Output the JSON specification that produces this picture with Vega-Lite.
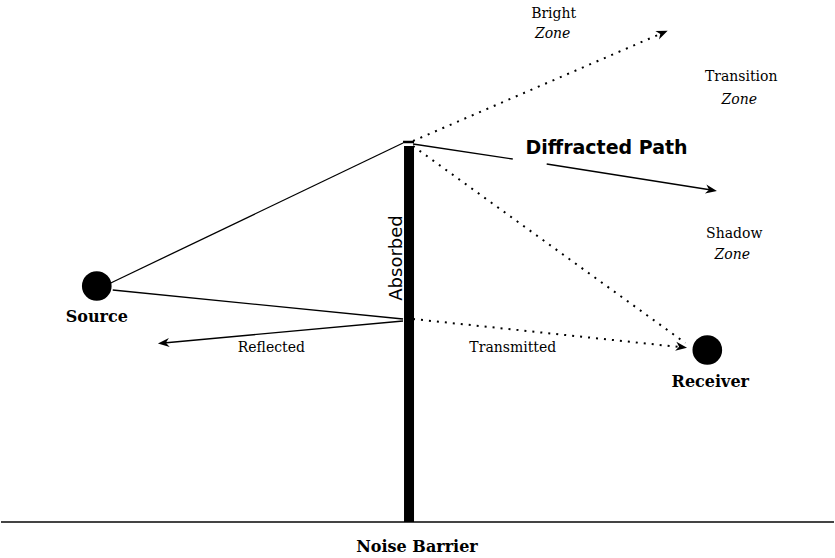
{
  "$schema": "https://vega.github.io/schema/vega-lite/v6.json",
  "width": 835,
  "height": 558,
  "autosize": {"type": "fit", "contains": "padding"},
  "padding": 0,
  "background": "white",
  "config": {"view": {"stroke": null}},
  "datasets": {
    "solid": [
      {"path": "source to barrier top", "x": 110, "y": 283, "x2": 403, "y2": 143},
      {"path": "source to barrier", "x": 112, "y": 290, "x2": 403, "y2": 319},
      {"path": "reflected", "x": 403, "y": 321, "x2": 163, "y2": 343},
      {"path": "diffracted a", "x": 413, "y": 144, "x2": 513, "y2": 159},
      {"path": "diffracted b", "x": 547, "y": 164, "x2": 712, "y2": 190}
    ],
    "dotted": [
      {"path": "bright", "x": 413, "y": 141, "x2": 663, "y2": 33},
      {"path": "shadow", "x": 413, "y": 146, "x2": 686, "y2": 343},
      {"path": "transmitted", "x": 413, "y": 319, "x2": 680, "y2": 347}
    ],
    "arrows": [
      {"path": "bright", "x": 663, "y": 33, "dir": -23},
      {"path": "diffracted", "x": 712, "y": 190, "dir": 9},
      {"path": "reflected", "x": 163, "y": 343, "dir": 175},
      {"path": "transmitted", "x": 682, "y": 347, "dir": 8}
    ],
    "ground": [{"x": 0, "y": 522, "x2": 835, "y2": 522}],
    "barrier": [{"x": 409, "y": 146, "x2": 409, "y2": 522}],
    "cap": [{"x": 403, "y": 142, "x2": 414, "y2": 142}],
    "nodes": [
      {"name": "Source", "x": 96, "y": 286},
      {"name": "Receiver", "x": 708, "y": 350}
    ],
    "boldLabels": [
      {"label": "Source", "x": 96, "y": 317},
      {"label": "Receiver", "x": 711, "y": 382},
      {"label": "Noise Barrier", "x": 417, "y": 547}
    ],
    "smallLabels": [
      {"label": "Reflected", "x": 271, "y": 348},
      {"label": "Transmitted", "x": 513, "y": 348},
      {"label": "Bright", "x": 554, "y": 14},
      {"label": "Transition", "x": 742, "y": 77},
      {"label": "Shadow", "x": 735, "y": 234}
    ],
    "zoneLabels": [
      {"label": "Zone", "x": 553, "y": 34},
      {"label": "Zone", "x": 740, "y": 100},
      {"label": "Zone", "x": 733, "y": 255}
    ],
    "pathLabel": [{"label": "Diffracted Path", "x": 607, "y": 148}],
    "absorbed": [{"label": "Absorbed", "x": 397, "y": 258}]
  },
  "encoding": {
    "x": {"field": "x", "type": "quantitative", "scale": {"domain": [0, 835], "nice": false, "zero": false}, "axis": null},
    "y": {"field": "y", "type": "quantitative", "scale": {"domain": [0, 558], "nice": false, "zero": false, "reverse": true}, "axis": null}
  },
  "layer": [
    {
      "data": {"name": "ground"},
      "mark": {"type": "rule", "color": "#444", "strokeWidth": 2},
      "encoding": {"x2": {"field": "x2"}, "y2": {"field": "y2"}}
    },
    {
      "data": {"name": "barrier"},
      "mark": {"type": "rule", "color": "black", "strokeWidth": 10},
      "encoding": {"x2": {"field": "x2"}, "y2": {"field": "y2"}}
    },
    {
      "data": {"name": "cap"},
      "mark": {"type": "rule", "color": "black", "strokeWidth": 2.5},
      "encoding": {"x2": {"field": "x2"}, "y2": {"field": "y2"}}
    },
    {
      "data": {"name": "solid"},
      "mark": {"type": "rule", "color": "black", "strokeWidth": 1.3},
      "encoding": {"x2": {"field": "x2"}, "y2": {"field": "y2"}}
    },
    {
      "data": {"name": "dotted"},
      "mark": {"type": "rule", "color": "black", "strokeWidth": 2, "strokeDash": [2, 6]},
      "encoding": {"x2": {"field": "x2"}, "y2": {"field": "y2"}}
    },
    {
      "data": {"name": "arrows"},
      "mark": {"type": "point", "shape": "M -1 -0.8 L 1 0 L -1 0.8 L -0.4 0 Z", "filled": true, "color": "black", "size": 130, "opacity": 1},
      "encoding": {"angle": {"field": "dir", "type": "quantitative", "scale": null}}
    },
    {
      "data": {"name": "nodes"},
      "mark": {"type": "point", "shape": "circle", "filled": true, "color": "black", "size": 880, "opacity": 1}
    },
    {
      "data": {"name": "boldLabels"},
      "mark": {"type": "text", "font": "DejaVu Serif", "fontWeight": "bold", "fontSize": 16, "color": "black", "align": "center", "baseline": "middle"},
      "encoding": {"text": {"field": "label"}}
    },
    {
      "data": {"name": "smallLabels"},
      "mark": {"type": "text", "font": "DejaVu Serif", "fontSize": 14, "color": "black", "align": "center", "baseline": "middle"},
      "encoding": {"text": {"field": "label"}}
    },
    {
      "data": {"name": "zoneLabels"},
      "mark": {"type": "text", "font": "DejaVu Serif", "fontStyle": "italic", "fontSize": 14, "color": "black", "align": "center", "baseline": "middle"},
      "encoding": {"text": {"field": "label"}}
    },
    {
      "data": {"name": "pathLabel"},
      "mark": {"type": "text", "font": "DejaVu Sans", "fontWeight": "bold", "fontSize": 19, "color": "black", "align": "center", "baseline": "middle"},
      "encoding": {"text": {"field": "label"}}
    },
    {
      "data": {"name": "absorbed"},
      "mark": {"type": "text", "font": "DejaVu Sans", "fontSize": 18, "angle": 270, "color": "black", "align": "center", "baseline": "middle"},
      "encoding": {"text": {"field": "label"}}
    }
  ]
}
